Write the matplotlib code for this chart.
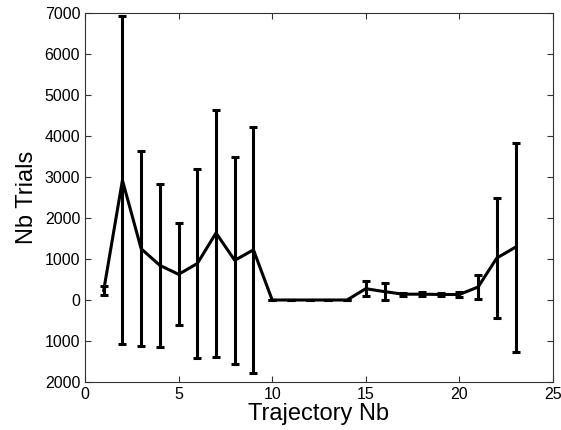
import matplotlib
matplotlib.use('Agg')
from matplotlib import pyplot as plt
import numpy as np

traj = list(range(1, 24))
trials = [235, 2920, 1250, 845, 626, 890, 1634, 968, 1223, 0, 0, 0, 0, 0,
          276, 204, 142, 142, 135, 134, 317, 1024, 1289]
err = [118, 4000, 2380, 1995, 1240, 2310, 3012, 2525, 3008, 0, 0, 0, 0, 0,
       183, 199, 40, 55, 35, 50, 288, 1468, 2545]

yticks = [-2000, -1000, 0, 1000, 2000, 3000, 4000, 5000, 6000, 7000]
# the original figure lost the minus signs on the negative ticks
ylabels = ['2000', '1000', '0', '1000', '2000', '3000', '4000', '5000', '6000', '7000']

plt.rcParams['font.family'] = ['Liberation Sans', 'DejaVu Sans']

fig = plt.figure(figsize=(5.61, 4.30), dpi=100)
ax = fig.add_axes([0.1515, 0.1116, 0.8342, 0.8582])

ax.errorbar(traj, trials, yerr=err, color='black', lw=2.2, elinewidth=2.2,
            capsize=3, capthick=2.2)

ax.set_xlim(0, 25)
ax.set_ylim(-2000, 7000)
ax.set_xticks([0, 5, 10, 15, 20, 25])
ax.set_yticks(yticks)
ax.set_yticklabels(ylabels)
ax.tick_params(direction='in', top=True, right=True, labelsize=11.5,
               length=4, width=0.8, color='#333333')
for s in ax.spines.values():
    s.set_linewidth(0.8)
    s.set_color('#333333')

ax.set_xlabel('Trajectory Nb', fontsize=17, labelpad=1)
ax.set_ylabel('Nb Trials', fontsize=17, labelpad=5)

plt.savefig('out.png', dpi=100)
